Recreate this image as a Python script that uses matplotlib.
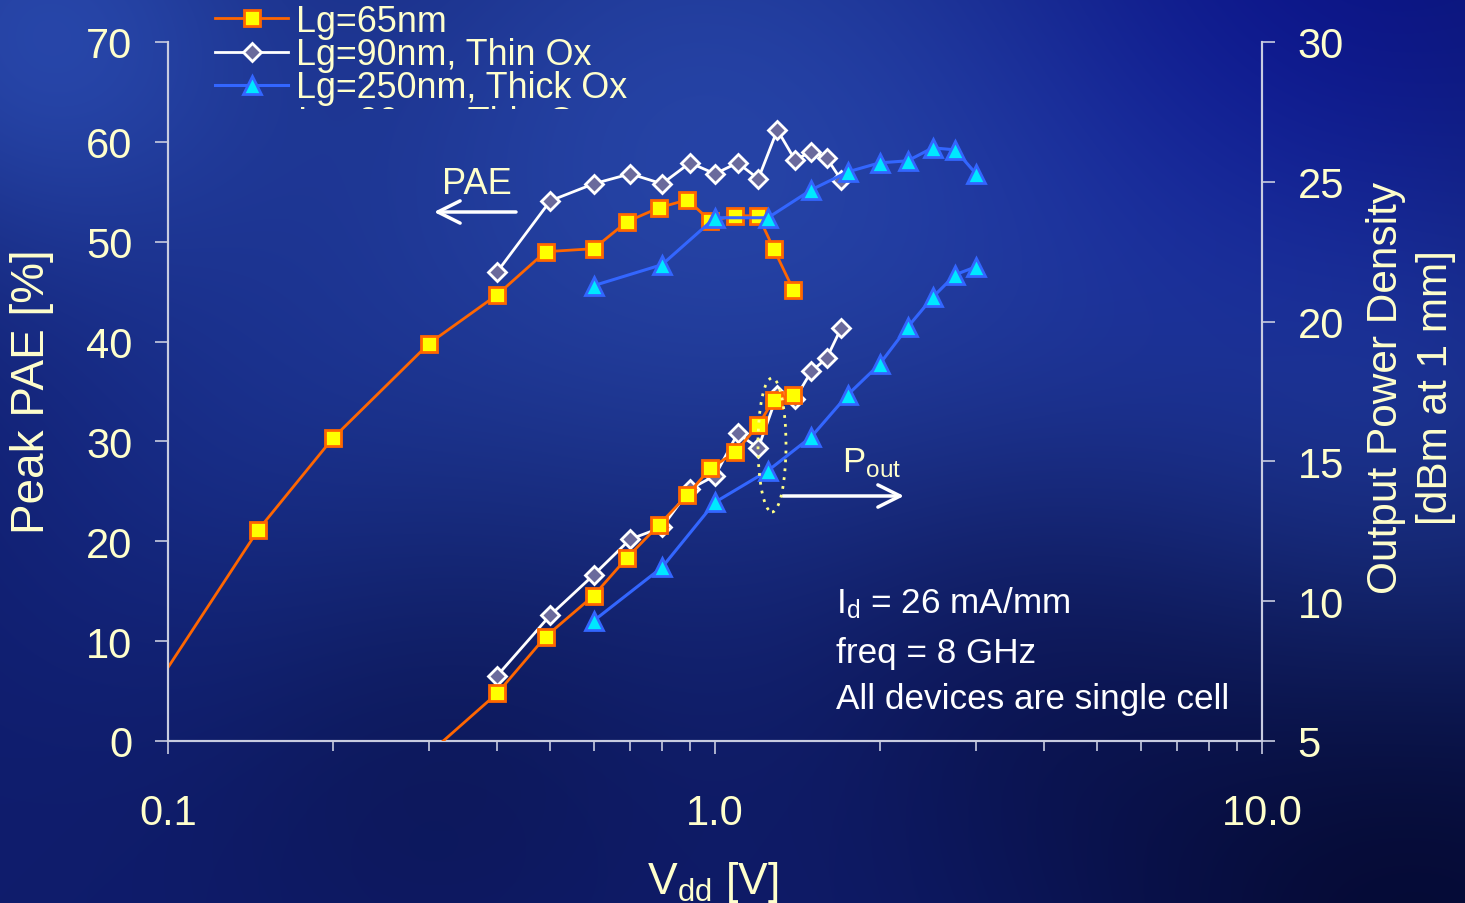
import numpy as np
import matplotlib
matplotlib.use("Agg")
import matplotlib.pyplot as plt
from matplotlib.patches import Ellipse, Rectangle

plt.rcParams['font.family'] = ['Liberation Sans', 'DejaVu Sans']
plt.rcParams['mathtext.fontset'] = 'custom'
plt.rcParams['mathtext.rm'] = 'Liberation Sans'
plt.rcParams['mathtext.it'] = 'Liberation Sans:italic'

W, H, DPI = 1465, 904, 100

# ---- data ----
vdd_65 = [0.095, 0.146, 0.2, 0.3, 0.4, 0.49, 0.6, 0.69, 0.79, 0.89, 0.98, 1.09, 1.2, 1.28, 1.39]
pae_65 = [5.5, 21.1, 30.3, 39.8, 44.7, 49.0, 49.3, 52.0, 53.4, 54.2, 52.1, 52.6, 52.6, 49.3, 45.2]
pout_65 = [np.nan, np.nan, np.nan, 4.55, 6.71, 8.73, 10.2, 11.55, 12.73, 13.8, 14.75, 15.33, 16.3, 17.2, 17.37]

vdd_90 = [0.4, 0.5, 0.6, 0.7, 0.8, 0.9, 1.0, 1.1, 1.2, 1.3, 1.4, 1.5, 1.6, 1.7]
pae_90 = [47.0, 54.1, 55.8, 56.8, 55.8, 57.9, 56.8, 57.9, 56.3, 61.2, 58.2, 59.0, 58.4, 56.2]
pout_90 = [7.34, 9.5, 10.94, 12.22, 12.64, 14.01, 14.49, 16.0, 15.48, 17.39, 17.23, 18.22, 18.69, 19.76]

vdd_250 = [0.6, 0.8, 1.0, 1.25, 1.5, 1.75, 2.0, 2.25, 2.5, 2.75, 3.0]
pae_250 = [45.6, 47.7, 52.4, 52.4, 55.2, 57.0, 57.9, 58.1, 59.4, 59.2, 56.8]
pout_250 = [9.3, 11.21, 13.54, 14.67, 15.88, 17.39, 18.48, 19.8, 20.87, 21.68, 21.96]

labels = ['Lg=65nm', 'Lg=90nm, Thin Ox', 'Lg=250nm, Thick Ox']
x_ticks = [0.1, 1.0, 10.0]
x_ticklabels = ['0.1', '1.0', '10.0']
pae_ticks = list(range(0, 71, 10))
pout_ticks = list(range(5, 31, 5))

CREAM = '#FFFFCC'
AXC = '#C8CCE0'


def fx(px):
    return px / W


def fy(py):
    return 1 - py / H


fig = plt.figure(figsize=(W / DPI, H / DPI), dpi=DPI)

# background: dark blue with soft light patches
yy, xx = np.mgrid[0:H, 0:W]
img = np.ones((H, W, 3)) * np.array([15, 28, 108]) / 255.0
blobs = [
    (700, 150, 300, (22, 38, 55)),
    (30, 30, 170, (22, 38, 55)),
    (260, 470, 200, (6, 12, 22)),
    (1440, 420, 200, (12, 22, 34)),
    (1100, 330, 200, (6, 10, 18)),
    (1420, 900, 260, (-10, -18, -55)),
    (430, 700, 190, (-5, -9, -25)),
    (1000, 650, 170, (-4, -8, -20)),
    (1300, 0, 220, (-6, -12, 18)),
]
for cx, cy, s, col in blobs:
    g = np.exp(-((xx - cx) ** 2 + (yy - cy) ** 2) / (2.0 * s * s))
    img += g[..., None] * np.array(col) / 255.0
img = np.clip(img, 0, 1)
bg = fig.add_axes([0, 0, 1, 1], zorder=-10)
bg.imshow(img, aspect='auto', interpolation='bilinear')
bg.axis('off')

ax = fig.add_axes([fx(168), fy(742), fx(1262) - fx(168), fy(43) - fy(742)])
ax.patch.set_visible(False)
ax2 = ax.twinx()

ax.set_xscale('log')
ax.set_xlim(0.1, 10)
ax.set_ylim(0, 70)
ax2.set_ylim(5, 30)

st_65 = dict(color='#FF6600', lw=2.0, marker='s', ms=11, mfc='#FFFF00', mec='#FF6600', mew=2.0)
st_90 = dict(color='white', lw=2.0, marker='D', ms=9, mfc='#6A6A9C', mec='white', mew=2.0)
st_250 = dict(color='#3366FF', lw=2.2, marker='^', ms=13, mfc='#00E8FF', mec='#3366FF', mew=2.0)

ax.plot(vdd_90, pae_90, zorder=3, **st_90)
ax.plot(vdd_65, pae_65, zorder=4, **st_65)
ax.plot(vdd_250, pae_250, zorder=5, **st_250)
ax2.plot(vdd_90, pout_90, zorder=3, **st_90)
h65, = ax2.plot(vdd_65, pout_65, zorder=4, **st_65)
h250, = ax2.plot(vdd_250, pout_250, zorder=5, **st_250)
h90, = ax2.plot([], [], **st_90)

for a in (ax, ax2):
    a.spines['top'].set_visible(False)
    for s in ('left', 'right', 'bottom'):
        a.spines[s].set_color(AXC)
        a.spines[s].set_linewidth(1.5)

ax.set_yticks(pae_ticks)
ax.set_yticklabels([str(t) for t in pae_ticks])
ax2.set_yticks(pout_ticks)
ax2.set_yticklabels([str(t) for t in pout_ticks])
ax.set_xticks(x_ticks)
ax.set_xticklabels(x_ticklabels)
ax.xaxis.set_minor_locator(matplotlib.ticker.LogLocator(base=10, subs=np.arange(2, 10)))
ax.xaxis.set_minor_formatter(matplotlib.ticker.NullFormatter())

ax.tick_params(axis='y', direction='out', length=9.5, width=1.2, color=AXC,
               labelcolor=CREAM, labelsize=30, pad=16)
ax2.tick_params(axis='y', direction='out', length=9.5, width=1.2, color=AXC,
                labelcolor=CREAM, labelsize=30, pad=16)
ax.tick_params(axis='x', which='major', direction='out', length=9.5, width=1.2, color=AXC,
               labelcolor=CREAM, labelsize=30, pad=28)
ax.tick_params(axis='x', which='minor', direction='out', length=7, width=1.2, color=AXC)

# axis labels
fig.text(fx(32), fy(392), 'Peak PAE [%]', rotation=90, ha='center', va='center',
         color=CREAM, fontsize=33)
fig.text(fx(1411), fy(388), 'Output Power Density\n[dBm at 1 mm]', rotation=90,
         ha='center', va='center', color=CREAM, fontsize=30.5, linespacing=1.3,
         multialignment='center')
fig.text(fx(713), fy(894), r'V$_{\rm dd}$ [V]', ha='center', va='baseline',
         color=CREAM, fontsize=32)

# annotations
fig.text(fx(442), fy(194), 'PAE', color=CREAM, fontsize=26, va='baseline')
fig.text(fx(842), fy(472), r'P$_{\rm out}$', color=CREAM, fontsize=25, va='baseline')
ax.annotate('', xy=(434, H - 213), xytext=(516, H - 213), xycoords='figure pixels',
            textcoords='figure pixels',
            arrowprops=dict(arrowstyle='->,head_length=0.8,head_width=0.4',
                            color='white', lw=2.5, mutation_scale=20, shrinkA=0, shrinkB=0))
ax2.annotate('', xy=(904, H - 497), xytext=(783, H - 497), xycoords='figure pixels',
             textcoords='figure pixels',
             arrowprops=dict(arrowstyle='->,head_length=0.8,head_width=0.4',
                             color='white', lw=2.5, mutation_scale=20, shrinkA=0, shrinkB=0))
ax2.add_patch(Ellipse(((772 - 168) / 1094, (742 - 446) / 699), 28 / 1094, 134 / 699,
                      transform=ax2.transAxes, fill=False, ec='#FFFF88', lw=2.0,
                      ls=(0, (1, 2.2)), zorder=6))

notes = [r'I$_{\rm d}$ = 26 mA/mm', 'freq = 8 GHz', 'All devices are single cell']
for txt, base in zip(notes, [613, 663, 709]):
    fig.text(fx(836), fy(base), txt, color='white', fontsize=25.3, va='baseline')

leg = ax2.legend([h65, h90, h250], labels, loc='upper left',
                 bbox_to_anchor=(fx(215), fy(5)), bbox_transform=fig.transFigure,
                 frameon=False, fontsize=25.8, handlelength=2.05, handletextpad=0.22,
                 labelspacing=-0.05, borderpad=0, borderaxespad=0, labelcolor=CREAM)
leg.set_zorder(20)

# fourth legend row, cut off by the plot area edge
t4 = fig.text(fx(298), fy(133), 'Lg=90nm, Thin Ox', color=CREAM, fontsize=25.8, va='baseline')
clip = Rectangle((0, fy(110)), 1, 1, transform=fig.transFigure, visible=False)
fig.add_artist(clip)
t4.set_clip_path(clip)

fig.savefig('out.png', dpi=DPI)
